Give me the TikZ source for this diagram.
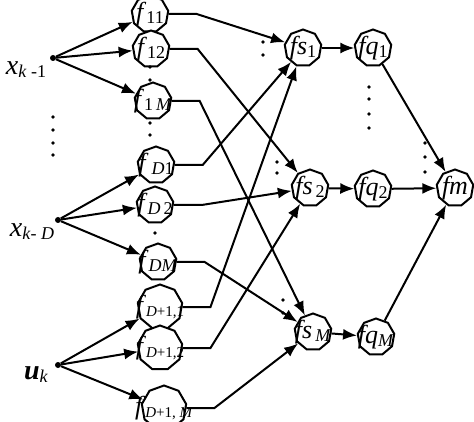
\documentclass[tikz,border=0pt]{standalone}
\usepackage{fontspec}
\setmainfont{Liberation Serif}
\usetikzlibrary{shapes.geometric, arrows.meta}
\newcommand{\sub}[1]{{\fontsize{18}{18}\selectfont\raisebox{-3pt}{#1}}}
\newcommand{\subs}[1]{{\fontsize{15}{15}\selectfont\raisebox{-3pt}{#1}}}

\begin{document}
\begin{tikzpicture}[x=1pt, y=-1pt,
			fnode/.style={
					regular polygon, regular polygon sides=9,
					draw, line width=2pt, fill=white,
					minimum size=37pt, inner sep=0pt,
					label={[font=\fontsize{26}{26}\selectfont, inner sep=0pt]center:#1}
				},
			big/.style={minimum size=45pt},
			inpt/.style={circle, fill, inner sep=0pt, minimum size=6pt},
			lbl/.style={font=\fontsize{28}{28}\selectfont, inner sep=0pt},
			link/.style={line width=2pt, -{Latex[length=14pt,width=11pt]}}
		]
		\useasboundingbox (0,0) rectangle (474,422);
		% ingressi
		\node[inpt] (xa) at (53,58) {};
		\node[inpt] (xD) at (58,220) {};
		\node[inpt] (uk) at (58,365) {};
		\node[lbl] (lxa) at (26,70) {\textit{x}\sub{\textit{k} -1}};
		\node[lbl] (lxD) at (32,232) {\textit{x}\sub{\textit{k}- \textit{D}}};
		\node[lbl] (luk) at (36,375) {\textit{\textbf{u}}\sub{\textit{k}}};
		% primo strato
		\node[fnode={\textit{f}\sub{11}}] (f11) at (150,14) {};
		\node[fnode={\textit{f}\sub{12}}] (f12) at (151,49) {};
		\node[fnode={\textit{f}\sub{1\,\textit{M}}}] (f1M) at (153,101) {};
		\node[fnode={\textit{f}\sub{\,\textit{D}1}}] (fD1) at (156,165) {};
		\node[fnode={\textit{f}\sub{\textit{D}\,2}}] (fD2) at (155,205) {};
		\node[fnode={\textit{f}\sub{\textit{DM}}}] (fDM) at (158,262) {};
		\node[fnode={\textit{f}\subs{\textit{D}+1,1}}, big] (fE1) at (160,307) {};
		\node[fnode={\textit{f}\subs{\textit{D}+1,2}}, big] (fE2) at (160,348) {};
		\node[fnode={\textit{f}\subs{\textit{D}+1, \textit{M}}}, big] (fEM) at (164,408) {};
		% strati successivi
		\node[fnode={\textit{fs}\sub{1}}] (fs1) at (303,48) {};
		\node[fnode={\textit{fs}\sub{\,2}}] (fs2) at (310,188) {};
		\node[fnode={\textit{fs}\sub{\,\textit{M}}}] (fsM) at (313,332) {};
		\node[fnode={\textit{fq}\sub{1}}] (fq1) at (373,48) {};
		\node[fnode={\textit{fq}\sub{2}}] (fq2) at (373,189) {};
		\node[fnode={\textit{fq}\sub{\textit{M}}}] (fqM) at (376,337) {};
		\node[fnode={\textit{fm}}] (fm) at (455,188) {};

		\foreach \a/\b in {xa/f11, xa/f12, xa/f1M, xD/fD1, xD/fD2, xD/fDM, uk/fE1, uk/fE2, uk/fEM}
		\draw[link] (\a) -- (\b);

		\foreach \a/\b in {f11/fs1, f12/fs2, f1M/fsM, fD1/fs1, fD2/fs2, fDM/fsM, fE1/fs1, fE2/fs2, fEM/fsM}
		\draw[link] (\a.east) -- ++(28,0) -- (\b);

		\foreach \a/\b in {fs1/fq1, fs2/fq2, fsM/fqM, fq1/fm, fq2/fm, fqM/fm}
		\draw[link] (\a) -- (\b);

		% puntini
		\foreach \p in {(53,117), (53,130), (53,143), (53,155),
				(150,67), (150,80), (150,123), (150,135), (155,233),
				(263,42), (263,55), (277,162), (277,173), (283,300), (283,313),
				(369,87), (369,99), (369,114), (369,128),
				(425,143), (425,157), (425,172)}
		\fill \p circle (1.8pt);
	\end{tikzpicture}
\end{document}
